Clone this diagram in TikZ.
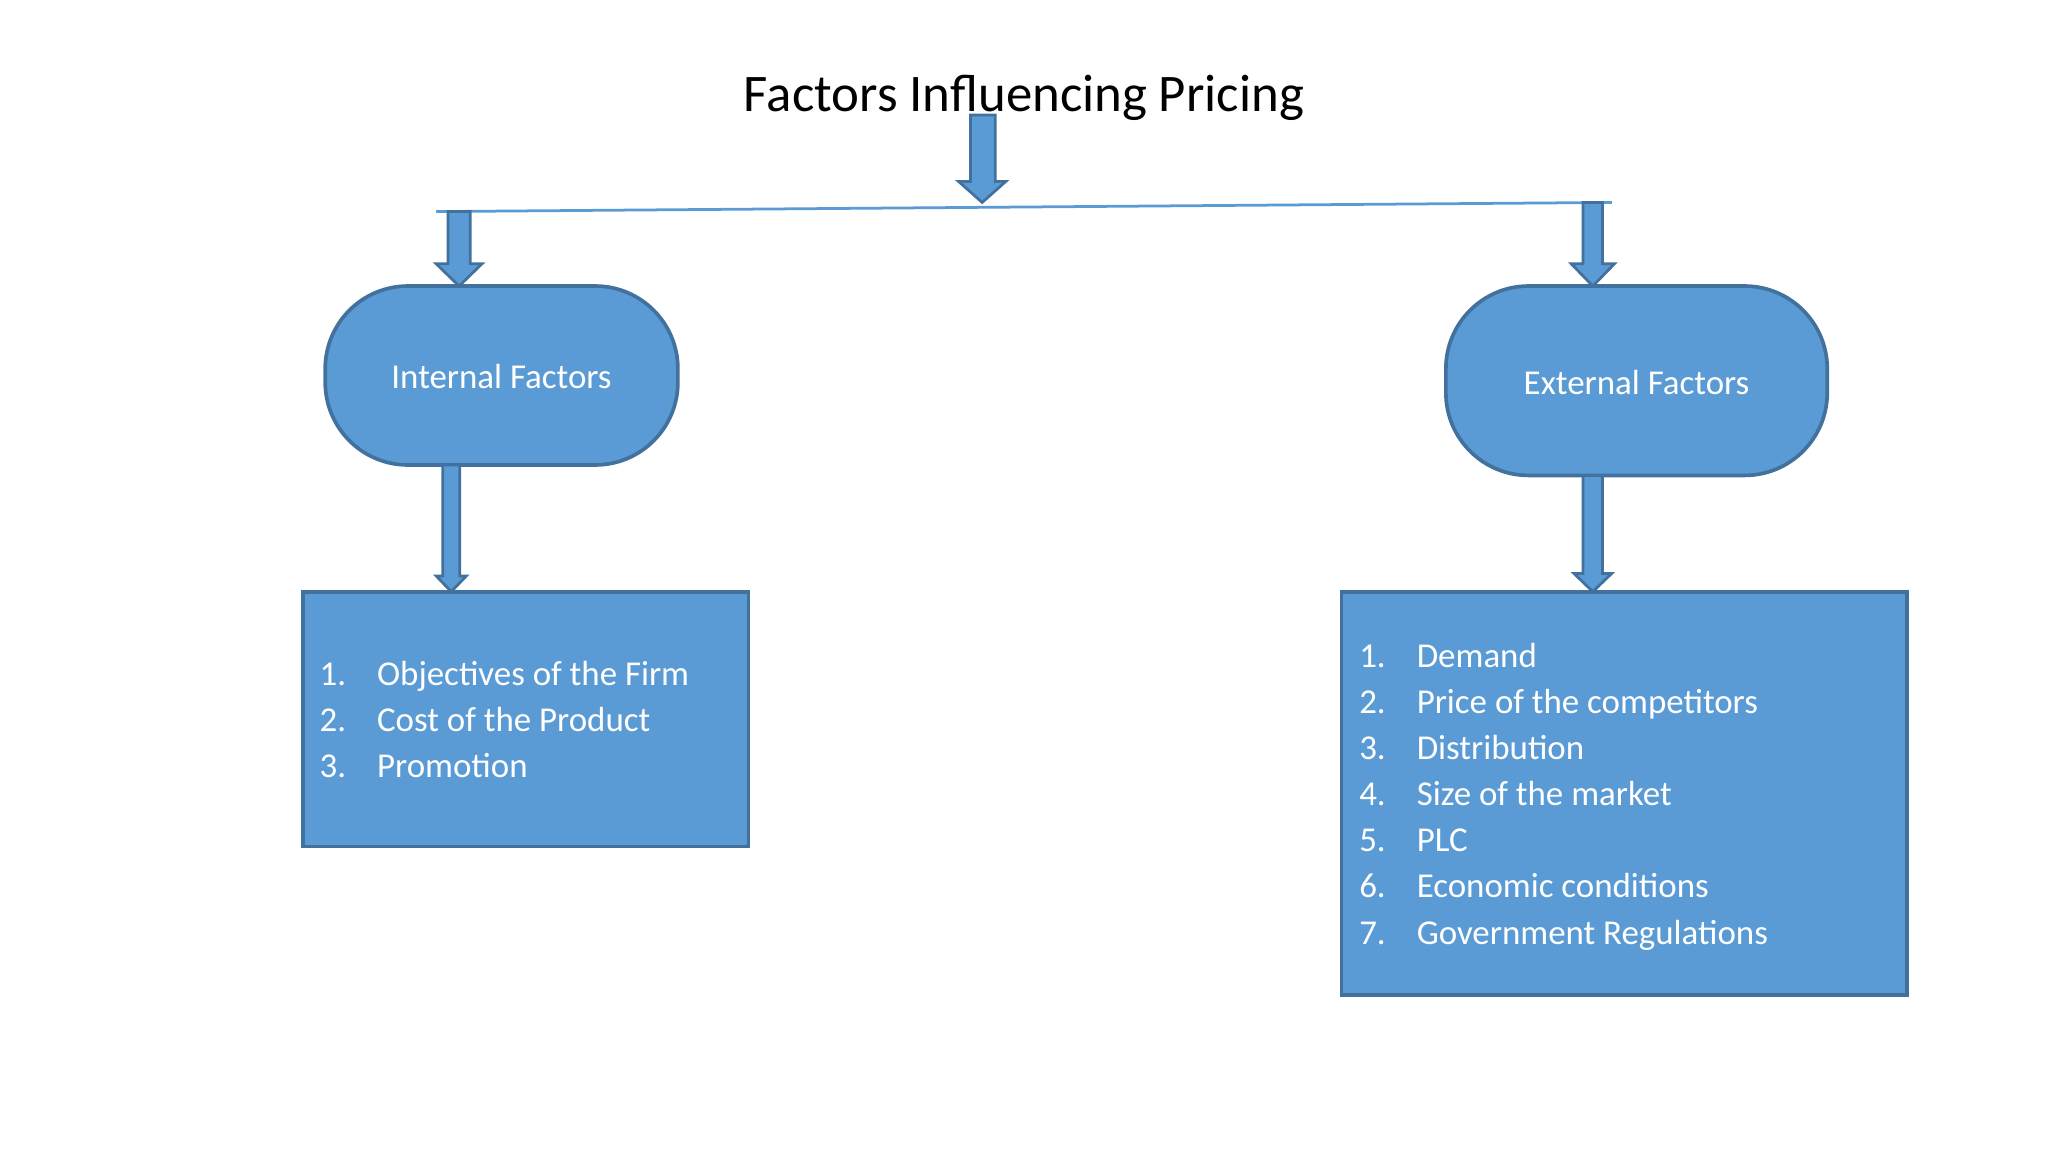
\documentclass[tikz,border=0pt]{standalone}
\usepackage{fontspec}
\setmainfont{Carlito}
\definecolor{bfill}{HTML}{5B9BD5}
\definecolor{bline}{HTML}{41719C}
\newcommand\barrow[6]{% x1 x2 ytop ybody hx1 hx2 ytip-> args: xl xr ytop yneck hl hr; tip y computed
}
\begin{document}
\begin{tikzpicture}[x=0.01cm,y=-0.01cm,
  box/.style={fill=bfill,draw=bline,line width=0.8pt},
  ba/.style={fill=bfill,draw=bline,line width=0.6pt},
  lt/.style={anchor=base west,text=white,font=\fontsize{7.6pt}{9pt}\selectfont,inner sep=0pt}]
\useasboundingbox (0,0) rectangle (1568,882);
\node (title) at (784,75) {\fontsize{11.5pt}{14pt}\selectfont Factors Influencing Pricing};
\coordinate (hl) at (334,162);
\coordinate (hr) at (1234,155);
\draw[bfill,line width=0.6pt] (hl) -- (hr);
% top arrow
\draw[ba] (743,88) -- (762,88) -- (762,139) -- (770,139) -- (752,155) -- (734,139) -- (743,139) -- cycle;
% left/right top arrows
\draw[ba] (343,162) -- (360,162) -- (360,202) -- (369,202) -- (351.5,219) -- (334,202) -- (343,202) -- cycle;
\draw[ba] (1212,155) -- (1227,155) -- (1227,202) -- (1236,202) -- (1219.5,219) -- (1203,202) -- (1212,202) -- cycle;
\draw[box,rounded corners=18] (249,219) rectangle (519,356);
\node[text=white,font=\fontsize{7.6pt}{9pt}\selectfont] (int) at (384,288) {Internal Factors};
\draw[box,rounded corners=18] (1107,219) rectangle (1399,364);
\node[text=white,font=\fontsize{7.6pt}{9pt}\selectfont] (ext) at (1253,293) {External Factors};
% down arrows
\draw[ba] (339,356) -- (352,356) -- (352,441) -- (357,441) -- (345.5,453) -- (334,441) -- (339,441) -- cycle;
\draw[ba] (1212,364) -- (1227,364) -- (1227,439) -- (1234,439) -- (1219.5,453) -- (1205,439) -- (1212,439) -- cycle;
\draw[box] (232,453) rectangle (573,648);
\draw[box] (1027,453) rectangle (1460,762);
\foreach \t [count=\i] in {Objectives of the Firm,Cost of the Product,Promotion}{
  \node[lt] at (244,{516+9+(\i-1)*35.2}) {\i.};
  \node[lt] at (288,{516+9+(\i-1)*35.2}) {\t};
}
\foreach \t [count=\i] in {Demand,Price of the competitors,Distribution,Size of the market,PLC,Economic conditions,Government Regulations}{
  \node[lt] at (1040,{502+9+(\i-1)*35.3}) {\i.};
  \node[lt] at (1084,{502+9+(\i-1)*35.3}) {\t};
}
\end{tikzpicture}
\end{document}
